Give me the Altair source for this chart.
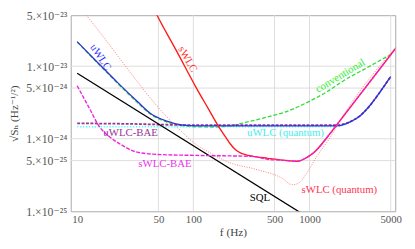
import altair as alt
import pandas as pd

# ---------------- data ----------------
x_ticks = [10, 50, 100, 500, 1000, 5000]
x_grid = [50, 100, 500, 1000, 5000]
y_ticks = [1e-25, 5e-25, 1e-24, 5e-24, 1e-23, 5e-23]
y_tick_labels = ["1.×10⁻²⁵", "5.×10⁻²⁵", "1.×10⁻²⁴", "5.×10⁻²⁴", "1.×10⁻²³", "5.×10⁻²³"]
y_grid = [5e-25, 1e-24, 5e-24, 1e-23]

conv_f = [10, 15.2, 22.4, 33, 42.5, 59, 79, 106, 150, 200, 300, 437, 600, 740, 1030, 1400, 1950, 3000, 5000]
conv_h = [2.15e-23, 1.08e-23, 5.75e-24, 3.15e-24, 2.2e-24, 1.7e-24, 1.52e-24, 1.46e-24, 1.45e-24, 1.5e-24,
          1.72e-24, 2.0e-24, 2.3e-24, 2.62e-24, 3.37e-24, 4.4e-24, 6.27e-24, 9.2e-24, 1.45e-23]

uq_f = [10, 100, 1000, 1700, 2000, 2300, 2700, 3300, 4000, 5000]
uq_h = [1.46e-24, 1.46e-24, 1.46e-24, 1.47e-24, 1.57e-24, 1.74e-24, 2.04e-24, 2.84e-24, 4.28e-24, 7.18e-24]

ubae_f = [10, 30, 60, 100, 1000, 1700, 2000, 2300, 2700, 3300, 4000, 5000]
ubae_h = [1.63e-24, 1.6e-24, 1.56e-24, 1.54e-24, 1.54e-24, 1.54e-24, 1.6e-24, 1.75e-24, 2.05e-24, 2.85e-24,
          4.3e-24, 7.2e-24]

uwlc_f = [10, 15.2, 22.4, 33, 42.5, 59, 79, 106, 200, 500, 1000, 1700, 2000, 2300, 2700, 3300, 4000, 5000]
uwlc_h = [2.18e-23, 1.10e-23, 5.9e-24, 3.26e-24, 2.25e-24, 1.75e-24, 1.55e-24, 1.5e-24, 1.5e-24, 1.5e-24,
          1.5e-24, 1.5e-24, 1.58e-24, 1.75e-24, 2.05e-24, 2.85e-24, 4.3e-24, 7.2e-24]

sql_f = [10, 1000]
sql_h = [8.0e-24, 8.0e-26]

swq_f = [10, 12, 72, 106, 147.5, 201, 340, 575, 711, 815, 934, 1157, 1518, 1845, 6000]
swq_h = [7.2e-23, 5.04e-23, 1.45e-24, 8.3e-25, 6.08e-25, 4.74e-25, 3.81e-25, 2.88e-25, 2.32e-25, 2.47e-25,
         3.26e-25, 5.71e-25, 1.064e-24, 1.81e-24, 2.1e-23]

swlc_f = [45, 48.7, 72, 106, 134, 162, 190, 209, 230, 254, 280, 321, 438, 610, 785, 952, 1091, 1518, 1845, 6000]
swlc_h = [6.5e-23, 5.04e-23, 1.6e-23, 5.04e-24, 2.62e-24, 1.545e-24, 1.05e-24, 8.4e-25, 7.1e-25, 6.4e-25,
          6.05e-25, 5.75e-25, 5.37e-25, 5.04e-25, 4.89e-25, 5.54e-25, 6.47e-25, 1.205e-24, 1.81e-24, 2.1e-23]

sbae_f = [10, 13, 15.2, 19.5, 24.7, 31.2, 48.7, 106, 321, 438, 610, 785, 952, 1091, 1518, 1845, 6000]
sbae_h = [5.37e-24, 2.47e-24, 1.545e-24, 1.03e-24, 8.04e-25, 6.67e-25, 6.08e-25, 5.89e-25, 5.71e-25, 5.2e-25,
          5.04e-25, 4.89e-25, 5.54e-25, 6.47e-25, 1.205e-24, 1.81e-24, 2.1e-23]

# label texts and anchor positions (in data units)
label_text = ["uWLC", "sWLC", "conventional", "uWLC-BAE", "uWLC (quantum)", "sWLC-BAE", "SQL", "sWLC (quantum)"]
label_f = [15.8, 89, 1845, 28.8, 621, 56.9, 375, 1808]
label_h = [1.32e-23, 1.24e-23, 7.33e-24, 1.205e-24, 1.205e-24, 4.46e-25, 1.5e-25, 1.98e-25]
label_angle = [56, 60, 329, 0, 0, 0, 0, 0]
label_color = ["#3333ff", "#ff3333", "#33ee33", "#993399", "#44eeee", "#ee33ee", "#000000", "#ff3355"]

# ---------------- chart ----------------
FONT = "'Liberation Serif', 'Times New Roman', 'DejaVu Serif', serif"
xscale = alt.Scale(type="log", domain=[8.8, 5470], nice=False, zero=False)
yscale = alt.Scale(type="log", domain=[1e-25, 5.05e-23], nice=False, zero=False)

label_expr = " : ".join(
    f"datum.value < {v * 1.5:.3e} ? '{t}'" for v, t in zip(y_ticks[:-1], y_tick_labels[:-1])
) + f" : '{y_tick_labels[-1]}'"

x_axis = alt.Axis(values=x_ticks, format="d", grid=False, ticks=False, domain=False, labelFlush=False,
                  labelFont=FONT, labelFontSize=11, labelColor="#555555", labelPadding=2,
                  title="f (Hz)", titleFont=FONT, titleFontSize=11.5, titleFontWeight="normal",
                  titleColor="#444444", titleY=22, titleBaseline="middle")
y_axis = alt.Axis(values=y_ticks, labelExpr=label_expr, grid=False, ticks=False, domain=False,
                  labelFlush=False, labelFont=FONT, labelFontSize=12, labelColor="#555555",
                  labelPadding=4, title="√Sₕ (Hz⁻¹/²)", titleFont=FONT, titleFontSize=11.5,
                  titleFontWeight="normal", titleColor="#444444", titleAngle=270, titleX=-57,
                  titleY=100, titleBaseline="middle", titleAlign="center")

X = alt.X("f:Q", scale=xscale, axis=x_axis)
Y = alt.Y("h:Q", scale=yscale, axis=y_axis)

layers = []
layers.append(alt.Chart(pd.DataFrame({"f": x_grid})).mark_rule(color="#dddddd", strokeWidth=1).encode(x=X))
layers.append(alt.Chart(pd.DataFrame({"h": y_grid})).mark_rule(color="#dddddd", strokeWidth=1).encode(y=Y))

series = [
    (conv_f, conv_h, "#33dd33", [4, 2], 1.3),
    (uq_f, uq_h, "#44ffff", [1.2, 1.8], 1.6),
    (ubae_f, ubae_h, "#993399", [3, 1.5], 1.8),
    (uwlc_f, uwlc_h, "#3030d8", None, 1.3),
    (sql_f, sql_h, "#000000", None, 1.3),
    (swq_f, swq_h, "#ff7777", [1, 1.5], 1.0),
    (swlc_f, swlc_h, "#ff1a1a", None, 1.4),
    (sbae_f, sbae_h, "#ee22dd", [4, 1.5], 1.4),
]
for fs, hs, col, dash, w in series:
    kw = dict(color=col, strokeWidth=w, clip=True, interpolate="monotone")
    if dash:
        kw["strokeDash"] = dash
    layers.append(alt.Chart(pd.DataFrame({"f": fs, "h": hs})).mark_line(**kw).encode(x=X, y=Y))

lab_df = pd.DataFrame({"text": label_text, "f": label_f, "h": label_h, "angle": label_angle,
                       "color": label_color})
layers.append(
    alt.Chart(lab_df).mark_text(font=FONT, fontSize=11, align="center", baseline="middle").encode(
        x=X, y=Y, text="text:N", angle=alt.Angle("angle:Q", scale=None),
        color=alt.Color("color:N", scale=None))
)

chart = alt.layer(*layers).properties(
    width=331, height=200,
    autosize=alt.AutoSizeParams(type="none"),
    padding={"left": 64, "top": 5, "right": 12, "bottom": 30},
).configure_view(stroke="#aaaaaa", strokeWidth=1)

chart.save("out.html", embed_options={"renderer": "svg", "actions": False})
